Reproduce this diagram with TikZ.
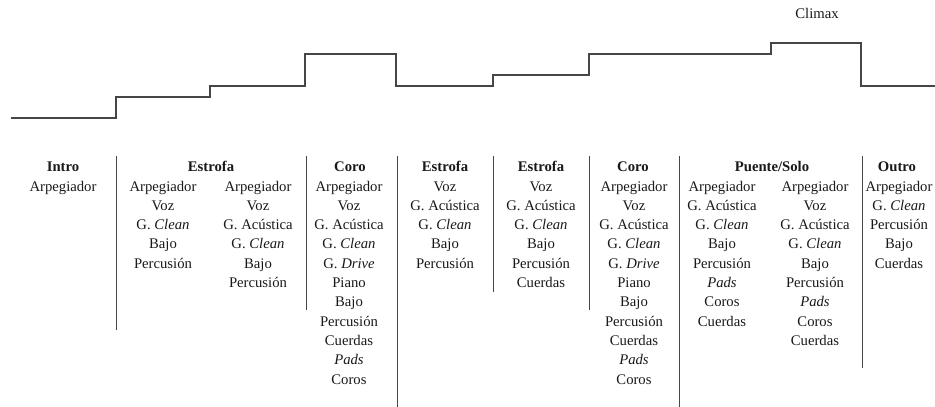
\documentclass[tikz,border=0pt]{standalone}
\usepackage{fontspec}
\setmainfont{Liberation Serif}
\definecolor{linegray}{RGB}{70,70,70}
\definecolor{txt}{RGB}{25,25,25}
\begin{document}
\begin{tikzpicture}[x=1pt,y=-1pt,
  txtfont/.style={font=\fontsize{14.7}{19.3}\selectfont, text=txt, inner sep=0pt},
  head/.style={txtfont, anchor=base, font=\fontsize{14.7}{19.3}\selectfont\bfseries},
  items/.style={txtfont, anchor=north, align=center},
  sep/.style={draw=linegray, line width=0.9pt},
  stepline/.style={draw=linegray, line width=1.3pt}]
\useasboundingbox (0,0) rectangle (935,407);
% step curve
\draw[stepline] (11,118) -- (116,118) -- (116,97) -- (210,97) -- (210,86) -- (305,86) -- (305,54) -- (396,54) -- (396,86) -- (493,86) -- (493,75) -- (589,75) -- (589,54) -- (771,54) -- (771,43) -- (861,43) -- (861,86) -- (935,86);
\node[txtfont, anchor=base] (climax) at (817,18) {Climax};
% separators
\draw[sep] (116,156) -- (116,330);
\draw[sep] (306,156) -- (306,310);
\draw[sep] (397,156) -- (397,407);
\draw[sep] (493,156) -- (493,292);
\draw[sep] (589,156) -- (589,310);
\draw[sep] (679,156) -- (679,407);
\draw[sep] (862,156) -- (862,368);
% headers
\node[head] (hintro) at (63,171.5) {Intro};
\node[head] (hest1) at (211,171.5) {Estrofa};
\node[head] (hcoro1) at (350,171.5) {Coro};
\node[head] (hest2) at (445,171.5) {Estrofa};
\node[head] (hest3) at (541,171.5) {Estrofa};
\node[head] (hcoro2) at (633,171.5) {Coro};
\node[head] (hpuente) at (772,171.5) {Puente/Solo};
\node[head] (houtro) at (897,171.5) {Outro};
% columns
\node[items] (cintro) at (63,177.3) {\strut Arpegiador};
\node[items] (cest1a) at (163,177.3) {\strut Arpegiador\\Voz\\G. \textit{Clean}\\Bajo\\Percusión};
\node[items] (cest1b) at (258,177.3) {\strut Arpegiador\\Voz\\G. Acústica\\G. \textit{Clean}\\Bajo\\Percusión};
\node[items] (ccoro1) at (349,177.3) {\strut Arpegiador\\Voz\\G. Acústica\\G. \textit{Clean}\\G. \textit{Drive}\\Piano\\Bajo\\Percusión\\Cuerdas\\\textit{Pads}\\Coros};
\node[items] (cest2) at (445,177.3) {\strut Voz\\G. Acústica\\G. \textit{Clean}\\Bajo\\Percusión};
\node[items] (cest3) at (541,177.3) {\strut Voz\\G. Acústica\\G. \textit{Clean}\\Bajo\\Percusión\\Cuerdas};
\node[items] (ccoro2) at (634,177.3) {\strut Arpegiador\\Voz\\G. Acústica\\G. \textit{Clean}\\G. \textit{Drive}\\Piano\\Bajo\\Percusión\\Cuerdas\\\textit{Pads}\\Coros};
\node[items] (cpuentea) at (722,177.3) {\strut Arpegiador\\G. Acústica\\G. \textit{Clean}\\Bajo\\Percusión\\\textit{Pads}\\Coros\\Cuerdas};
\node[items] (cpuenteb) at (815,177.3) {\strut Arpegiador\\Voz\\G. Acústica\\G. \textit{Clean}\\Bajo\\Percusión\\\textit{Pads}\\Coros\\Cuerdas};
\node[items] (coutro) at (899,177.3) {\strut Arpegiador\\G. \textit{Clean}\\Percusión\\Bajo\\Cuerdas};
\end{tikzpicture}
\end{document}
